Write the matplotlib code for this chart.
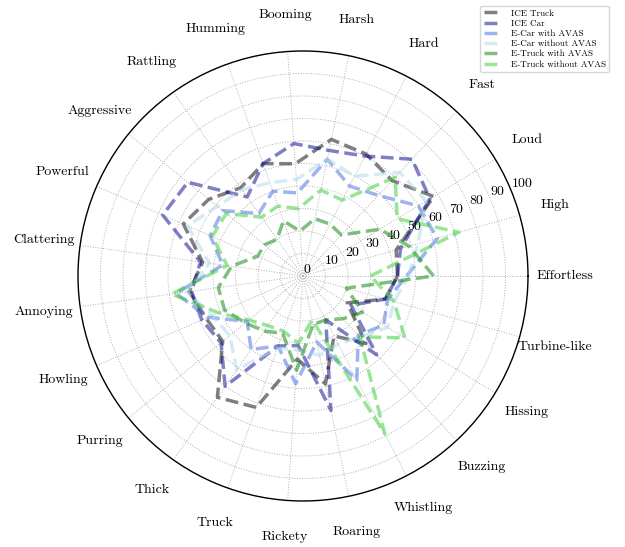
import numpy as np
import matplotlib
matplotlib.use("Agg")
import matplotlib.pyplot as plt

plt.rcParams['font.family'] = 'serif'
plt.rcParams['font.serif'] = ['cmr10', 'DejaVu Serif']
plt.rcParams['axes.formatter.use_mathtext'] = True

# sound descriptors, counter-clockwise from 0 deg
categories = ['Effortless', 'High', 'Loud', 'Fast', 'Hard', 'Harsh', 'Booming',
              'Humming', 'Rattling', 'Aggressive', 'Powerful', 'Clattering',
              'Annoying', 'Howling', 'Purring', 'Thick', 'Truck', 'Rickety',
              'Roaring', 'Whistling', 'Buzzing', 'Hissing', 'Turbine-like']

ice_truck = [42, 43, 68, 58, 61, 62, 50, 53, 48, 54, 58, 45,
             51, 47, 46, 66, 62, 37, 49, 30, 41, 23, 38]
ice_car = [42, 45, 66, 71, 60, 57, 59, 53, 43, 66, 68, 46,
           50, 49, 47, 60, 33, 31, 61, 22, 48, 25, 38]
ecar_avas = [46, 62, 60, 49, 45, 53, 37, 40, 34, 46, 45, 36,
             57, 46, 32, 40, 33, 48, 30, 52, 36, 42, 39]
ecar_no_avas = [47, 53, 64, 63, 50, 53, 43, 44, 47, 49, 56, 42,
                52, 44, 42, 51, 34, 33, 36, 34, 37, 44, 42]
etruck_avas = [58, 49, 40, 25, 26, 26, 20, 26, 20, 22, 22, 32,
               38, 38, 33, 30, 27, 42, 22, 22, 26, 31, 20]
etruck_no_avas = [30, 72, 49, 60, 38, 39, 30, 33, 32, 44, 44, 34,
                  59, 41, 31, 27, 26, 30, 20, 79, 37, 53, 42]

series = [
    ('ICE Truck', ice_truck, 'black'),
    ('ICE Car', ice_car, 'darkblue'),
    ('E-Car with AVAS', ecar_avas, 'royalblue'),
    ('E-Car without AVAS', ecar_no_avas, 'lightblue'),
    ('E-Truck with AVAS', etruck_avas, 'green'),
    ('E-Truck without AVAS', etruck_no_avas, 'limegreen'),
]

angles = np.linspace(0, 2 * np.pi, len(categories), endpoint=False)
closed = np.concatenate([angles, angles[:1]])

fig = plt.figure(figsize=(6.25, 5.47), dpi=100)
ax = fig.add_axes([0.1248, 0.0841, 0.72, 0.8227], projection='polar')

for name, vals, col in series:
    v = np.concatenate([vals, vals[:1]])
    ax.plot(closed, v, linestyle='--', linewidth=2.5, color=col, alpha=0.5, label=name)

ax.set_ylim(0, 100)
ax.set_rgrids(np.arange(0, 101, 10), fontsize=10)
ax.set_rlabel_position(22.5)
ax.set_xticks(angles)
ax.set_xticklabels(categories, fontsize=10)
ax.tick_params(axis='x', pad=16)
ax.grid(True, linestyle=':', linewidth=0.7, color='#b0b0b0')
ax.spines['polar'].set_color('black')
ax.spines['polar'].set_linewidth(1.0)

ax.legend(loc='upper right', bbox_to_anchor=(0.982, 0.998),
          bbox_transform=fig.transFigure, fontsize=6.5, handlelength=2.0,
          labelspacing=0.2, borderpad=0.4, handletextpad=1.0)

fig.savefig('out.png', dpi=100)
